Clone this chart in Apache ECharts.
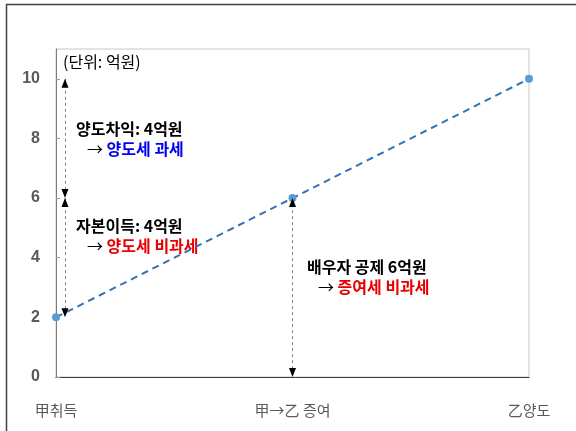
<!DOCTYPE html>
<html>
<head>
<meta charset="utf-8">
<script src="https://cdn.jsdelivr.net/npm/echarts@6/dist/echarts.min.js"></script>
<style>
  html, body { margin: 0; padding: 0; background: #fff; }
  #chart { width: 576px; height: 431px; }
</style>
</head>
<body>
<div id="chart"></div>
<script>
// chart data
let categories = ['甲취득', '甲→乙 증여', '乙양도'];
let values = [2, 6, 10];
let yTicks = [0, 2, 4, 6, 8, 10];

let font = '"Noto Sans CJK KR", "Noto Sans", sans-serif';

// arrows sit a little right of the y axis
let arrowX = 0.038;

var dom = document.getElementById('chart');
var myChart = echarts.init(dom);

function arrowHead(x, y, up) {
    return {
        coord: [x, y],
        symbol: 'triangle',
        symbolSize: [7, 9],
        symbolRotate: up ? 0 : 180,
        symbolOffset: [0, up ? 4.5 : -4.5],
        itemStyle: { color: '#000' },
        label: { show: false }
    };
}

function textLine(x, y, parts) {
    return {
        type: 'text',
        left: x,
        top: y - 11,
        style: {
            text: parts,
            rich: rich,
            fontFamily: font,
            fontSize: 16,
            fill: '#000'
        }
    };
}

let rich = {
    k: { fontFamily: font, fontSize: 16, fontWeight: 'bold', fill: '#000' },
    n: { fontFamily: font, fontSize: 16, fill: '#000' },
    blue: { fontFamily: font, fontSize: 16, fontWeight: 'bold', fill: '#0000ee' },
    red: { fontFamily: font, fontSize: 16, fontWeight: 'bold', fill: '#e80000' }
};

var option = {
    animation: false,
    grid: {
        left: 56, right: 47, top: 49, bottom: 54,
        show: true, borderColor: '#c8c8c8', borderWidth: 1
    },
    xAxis: [{
        type: 'value',
        min: 0, max: categories.length - 1, interval: 1,
        splitLine: { show: false },
        axisTick: { show: false },
        axisLine: { show: true, onZero: false, lineStyle: { color: '#6f6f6f', width: 1 } },
        axisLabel: {
            margin: 26,
            fontFamily: font,
            fontSize: 15,
            color: '#595959',
            formatter: v => categories[v]
        }
    }, {
        type: 'value',
        position: 'top',
        min: 0, max: categories.length - 1,
        splitLine: { show: false },
        axisTick: { show: false },
        axisLabel: { show: false },
        axisLine: { show: true, lineStyle: { color: '#404040', width: 1 } }
    }],
    yAxis: {
        type: 'value',
        min: 0, max: 11,
        splitLine: { show: false },
        axisLine: { show: true, lineStyle: { color: '#7a7a7a', width: 1 } },
        axisTick: {
            show: true, inside: true, length: 4,
            customValues: yTicks,
            lineStyle: { color: '#9a9a9a' }
        },
        axisLabel: {
            customValues: yTicks,
            margin: 16,
            fontFamily: 'Liberation Sans, Arial, sans-serif',
            fontSize: 16,
            fontWeight: 'bold',
            color: '#595959'
        }
    },
    series: [{
        type: 'line',
        data: values.map((v, i) => [i, v]),
        symbol: 'circle',
        symbolSize: 8,
        itemStyle: { color: '#5b9bd5' },
        lineStyle: { color: '#2e75b6', width: 2, type: [7, 5] },
        z: 3
    }, {
        type: 'line',
        data: [],
        silent: true,
        markLine: {
            silent: true,
            symbol: ['none', 'none'],
            label: { show: false },
            lineStyle: { color: '#808080', width: 1, type: [3, 3] },
            data: [
                [{ coord: [arrowX, values[2]] }, { coord: [arrowX, values[1]] }],
                [{ coord: [arrowX, values[1]] }, { coord: [arrowX, values[0]] }],
                [{ coord: [1, values[1]] }, { coord: [1, 0] }]
            ]
        },
        markPoint: {
            silent: true,
            data: [
                arrowHead(arrowX, values[2], true),
                arrowHead(arrowX, values[1], false),
                arrowHead(arrowX, values[1], true),
                arrowHead(arrowX, values[0], false),
                arrowHead(1, values[1], true),
                arrowHead(1, 0, false)
            ]
        }
    }],
    graphic: [
        {
            type: 'rect',
            shape: { x: 6.5, y: 4.5, width: 620, height: 500 },
            style: { fill: 'none', stroke: '#404040', lineWidth: 1.5 },
            silent: true
        },
        textLine(63, 65, '{n|(단위: 억원)}'),
        textLine(76, 132, '{k|양도차익: 4억원}'),
        textLine(87, 152, '{n|→ }{blue|양도세 과세}'),
        textLine(76, 229, '{k|자본이득: 4억원}'),
        textLine(87, 249, '{n|→ }{red|양도세 비과세}'),
        textLine(307, 270, '{k|배우자 공제 6억원}'),
        textLine(318, 290, '{n|→ }{red|증여세 비과세}')
    ]
};

if (option && typeof option === 'object') {
    myChart.setOption(option);
}
</script>
</body>
</html>
